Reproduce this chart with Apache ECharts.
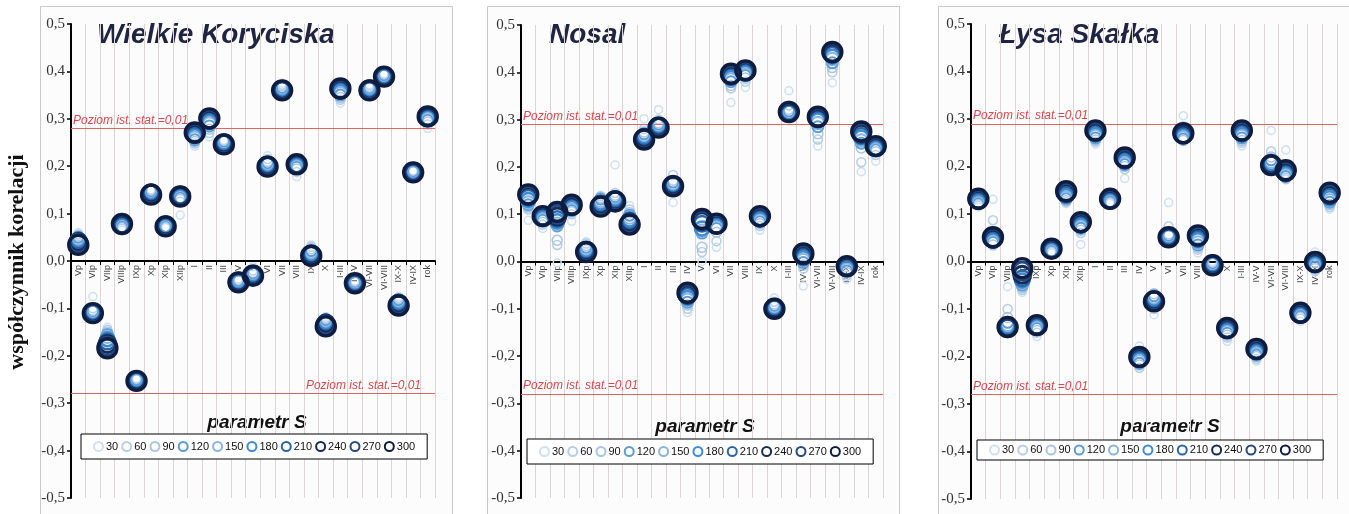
<!DOCTYPE html>
<html><head><meta charset="utf-8">
<script src="https://cdn.jsdelivr.net/npm/echarts@6/dist/echarts.min.js"></script>
<style>html,body{margin:0;padding:0;background:#fff}#c{width:1349px;height:514px}</style>
</head><body><div id="c"></div>
<script>
const categories = ['Vp','VIp','VIIp','VIIIp','IXp','Xp','XIp','XIIp','I','II','III','IV','V','VI','VII','VIII','IX','X','I-III','IV-V','VI-VII','VI-VIII','IX-X','IV-IX','rok'];
const params = ['30','60','90','120','150','180','210','240','270','300'];
const yTicks = ['-0,5','-0,4','-0,3','-0,2','-0,1','0,0','0,1','0,2','0,3','0,4','0,5'];
const titles = ['Wielkie Koryciska','Nosal','Łysa Skałka'];
const thresholds = [[0.28,-0.275],[0.29,-0.285],[0.288,-0.284]];

// Wielkie Koryciska
const wk30  = [.060,-.075,-.140,.065,-.248,.150,.070,.097,.242,.262,.255,-.038,-.012,.222,.375,.178,.034,-.117,.333,-.042,.372,.395,-.075,.190,.280];
const wk60  = [.056,-.100,-.145,.068,-.249,.150,.071,.125,.248,.270,.254,-.040,-.020,.215,.372,.188,.030,-.120,.340,-.043,.370,.394,-.078,.190,.288];
const wk90  = [.053,-.104,-.150,.070,-.250,.148,.072,.130,.252,.278,.253,-.041,-.024,.210,.369,.194,.026,-.122,.345,-.044,.367,.393,-.080,.189,.293];
const wk120 = [.050,-.106,-.155,.072,-.250,.147,.073,.133,.256,.285,.252,-.042,-.026,.207,.366,.198,.022,-.124,.350,-.045,.365,.392,-.082,.189,.297];
const wk150 = [.047,-.107,-.160,.074,-.251,.146,.073,.135,.260,.290,.251,-.043,-.027,.205,.364,.200,.019,-.126,.354,-.045,.364,.391,-.084,.188,.300];
const wk180 = [.045,-.108,-.165,.075,-.251,.145,.074,.136,.263,.293,.250,-.043,-.028,.203,.363,.202,.016,-.128,.357,-.046,.363,.390,-.086,.188,.302];
const wk210 = [.043,-.108,-.170,.076,-.252,.144,.074,.137,.266,.296,.249,-.044,-.029,.202,.362,.203,.014,-.130,.360,-.046,.362,.390,-.088,.188,.303];
const wk240 = [.040,-.109,-.175,.077,-.252,.143,.075,.137,.268,.298,.248,-.044,-.030,.201,.361,.204,.013,-.132,.362,-.047,.361,.389,-.090,.187,.304];
const wk270 = [.037,-.110,-.180,.078,-.253,.141,.074,.137,.270,.300,.247,-.045,-.030,.200,.360,.204,.012,-.135,.363,-.047,.361,.389,-.092,.187,.305];
const wk300 = [.034,-.110,-.184,.078,-.253,.140,.073,.136,.271,.301,.246,-.045,-.031,.199,.360,.204,.011,-.138,.364,-.047,.360,.389,-.094,.187,.305];

// Nosal
const no30  = [.087,.070,-.003,.085,.042,.140,.204,.118,.302,.321,.125,-.108,.000,.030,.336,.368,.066,-.077,.361,-.052,.244,.378,-.038,.190,.212];
const no60  = [.110,.078,.035,.100,.038,.138,.145,.110,.280,.300,.183,-.100,.020,.043,.366,.380,.075,-.085,.330,-.015,.258,.400,-.030,.210,.225];
const no90  = [.115,.083,.045,.105,.034,.135,.140,.103,.274,.293,.172,-.092,.030,.062,.372,.388,.080,-.090,.322,-.008,.270,.410,-.024,.240,.232];
const no120 = [.120,.087,.075,.108,.030,.132,.137,.098,.270,.290,.168,-.086,.060,.070,.380,.393,.084,-.093,.318,-.002,.285,.420,-.020,.250,.236];
const no150 = [.125,.090,.080,.110,.027,.128,.135,.093,.267,.288,.165,-.081,.065,.073,.385,.396,.087,-.095,.316,.003,.293,.428,-.017,.256,.238];
const no180 = [.130,.092,.085,.113,.025,.125,.133,.089,.265,.287,.163,-.077,.070,.075,.388,.399,.089,-.097,.315,.007,.298,.433,-.014,.262,.240];
const no210 = [.135,.094,.090,.115,.023,.122,.131,.086,.263,.286,.162,-.073,.080,.077,.391,.401,.091,-.098,.315,.010,.301,.437,-.012,.266,.241];
const no240 = [.138,.095,.095,.117,.022,.120,.129,.083,.261,.285,.161,-.070,.085,.078,.393,.402,.093,-.099,.315,.013,.303,.440,-.011,.270,.242];
const no270 = [.140,.096,.100,.119,.021,.118,.128,.080,.259,.284,.160,-.068,.088,.079,.395,.403,.095,-.100,.316,.015,.305,.442,-.010,.273,.243];
const no300 = [.142,.096,.105,.120,.020,.116,.127,.078,.258,.283,.159,-.066,.090,.080,.397,.404,.096,-.100,.316,.017,.306,.443,-.010,.275,.244];

// Łysa Skałka
const ls30  = [.115,.131,-.053,-.065,-.158,.018,.122,.036,.247,.122,.175,-.178,-.112,.124,.307,.018,.000,-.168,.243,-.210,.276,.235,-.126,.020,.110];
const ls60  = [.118,.087,-.100,-.060,-.150,.020,.125,.060,.252,.124,.194,-.224,-.100,.074,.285,.025,-.002,-.160,.250,-.205,.232,.173,-.120,-.020,.115];
const ls90  = [.120,.035,-.118,-.055,-.145,.021,.128,.066,.256,.125,.200,-.218,-.068,.058,.255,.030,-.003,-.155,.255,-.200,.220,.176,-.117,-.015,.120];
const ls120 = [.122,.040,-.128,-.050,-.141,.022,.132,.070,.260,.126,.204,-.214,-.072,.055,.258,.035,-.004,-.151,.260,-.197,.214,.179,-.115,-.012,.125];
const ls150 = [.124,.042,-.133,-.045,-.139,.023,.135,.073,.264,.127,.207,-.210,-.075,.053,.261,.040,-.005,-.148,.264,-.194,.210,.182,-.113,-.009,.129];
const ls180 = [.126,.044,-.136,-.040,-.137,.024,.138,.076,.267,.128,.210,-.207,-.078,.052,.264,.045,-.006,-.146,.267,-.191,.207,.184,-.112,-.006,.133];
const ls210 = [.128,.046,-.138,-.035,-.136,.025,.141,.078,.270,.129,.213,-.205,-.080,.052,.266,.048,-.006,-.144,.270,-.189,.205,.186,-.111,-.004,.137];
const ls240 = [.130,.048,-.139,-.028,-.135,.026,.144,.080,.272,.130,.215,-.203,-.082,.051,.268,.051,-.007,-.142,.272,-.187,.204,.188,-.110,-.003,.140];
const ls270 = [.131,.050,-.139,-.020,-.135,.027,.146,.082,.274,.131,.217,-.202,-.083,.051,.269,.053,-.007,-.141,.274,-.185,.203,.190,-.109,-.002,.143];
const ls300 = [.132,.051,-.138,-.014,-.134,.027,.148,.083,.276,.132,.219,-.201,-.084,.051,.270,.055,-.008,-.140,.276,-.184,.203,.192,-.108,-.001,.145];

const panelData = [
  [wk30,wk60,wk90,wk120,wk150,wk180,wk210,wk240,wk270,wk300],
  [no30,no60,no90,no120,no150,no180,no210,no240,no270,no300],
  [ls30,ls60,ls90,ls120,ls150,ls180,ls210,ls240,ls270,ls300]
];

const colors = ['#cfe0f1','#b6cfe9','#a8c5e4','#5c9bd5','#8ab5de','#3c8bd4','#2a66a6','#142c5c','#25497e','#0e1c40'];
const sizes  = [8,9,10,11,12.5,14,15.5,17,18,19];
const borders= [1.5,1.5,1.5,2,2,2.5,2.5,3,3.2,3.4];

const grids = [
  {left:71, top:24, width:364, height:474, outerBoundsMode:'none', containLabel:false},
  {left:521, top:25, width:362, height:473, outerBoundsMode:'none', containLabel:false},
  {left:971, top:24, width:366, height:475, outerBoundsMode:'none', containLabel:false}
];
const legendPos = [
  {left:81, top:434, h:28},
  {left:527, top:439, h:28},
  {left:977, top:440, h:23}
];
const paramLabelPos = [[257,423],[705,427],[1170,427]];
const titlePos = [[97,35],[549,35],[999,35]];
const panelRects = [[40,6,412,520],[487,6,412,520],[938,6,420,520]];

const xAxes=[], yAxes=[], series=[], legends=[], graphics=[];
panelRects.forEach(r=>graphics.push({type:'rect',shape:{x:r[0]+0.5,y:r[1]+0.5,width:r[2],height:r[3]},style:{fill:'#fcfcfc',stroke:'#c9c9c9',lineWidth:1},z:-10}));

for(let p=0;p<3;p++){
  xAxes.push({type:'category',gridIndex:p,data:categories,boundaryGap:true,position:'bottom',
    offset:-grids[p].height/2,
    axisLine:{onZero:false,lineStyle:{color:'#000',width:2}},
    axisTick:{show:true,length:4,lineStyle:{color:'#000'}},
    axisLabel:{rotate:90,fontSize:9,color:'#444',fontFamily:'Liberation Sans',margin:4,interval:0},
    splitLine:{show:true,lineStyle:{color:'#ddd3d3',width:1}}});
  yAxes.push({type:'value',gridIndex:p,min:-0.5,max:0.5,interval:0.1,
    axisLine:{show:true,onZero:false,lineStyle:{color:'#000',width:2}},
    axisTick:{show:true,length:4,lineStyle:{color:'#000',width:1.5}},
    splitLine:{show:false},
    axisLabel:{fontFamily:'Liberation Serif',fontSize:15,color:'#333',margin:6,
      formatter:v=>yTicks[Math.round((v+0.5)*10)]}});
  const thr = thresholds[p];
  for(let s=0;s<10;s++){
    const ser={type:'scatter',name:params[s],xAxisIndex:p,yAxisIndex:p,data:panelData[p][s],
      symbol:'circle',symbolSize:sizes[s],
      itemStyle:{color:'rgba(255,255,255,0)',borderColor:colors[s],borderWidth:borders[s],opacity:1},
      emphasis:{disabled:true},z:2+s};
    if(s===0){
      ser.markLine={silent:true,symbol:['none','none'],animation:false,
        lineStyle:{color:'#e06464',width:1.2,type:'solid'},
        data:[
          {yAxis:thr[0],label:{show:true,position:'insideStartTop',formatter:'Poziom ist. stat.=0,01',color:'#d9474b',fontStyle:'italic',fontSize:12,fontFamily:'Liberation Sans',distance:[2,2]}},
          {yAxis:thr[1],label:{show:true,position:p===0?'insideEndTop':'insideStartTop',formatter:'Poziom ist. stat.=0,01',color:'#d9474b',fontStyle:'italic',fontSize:12,fontFamily:'Liberation Sans',distance:p===0?[14,2]:[2,2]}}
        ]};
    }
    series.push(ser);
  }
  legends.push({left:legendPos[p].left,top:legendPos[p].top,orient:'horizontal',
    data:params,itemWidth:9,itemHeight:9,itemGap:3,
    padding:[(legendPos[p].h-14)/2,12,(legendPos[p].h-14)/2,12],
    borderColor:'#000',borderWidth:1,backgroundColor:'#fff',
    textStyle:{fontSize:11,fontFamily:'Liberation Sans',color:'#111',padding:[0,0,0,-2]},
    selectedMode:false});
  graphics.push({type:'text',x:titlePos[p][0],y:titlePos[p][1],style:{text:titles[p],font:'italic bold 28px "Liberation Sans"',fill:'#1e2442',verticalAlign:'middle'}});
  graphics.push({type:'text',x:paramLabelPos[p][0],y:paramLabelPos[p][1],style:{text:'parametr S',font:'italic bold 19px "Liberation Sans"',fill:'#111',align:'center',verticalAlign:'middle'}});
}
graphics.push({type:'text',x:17,y:262,rotation:Math.PI/2,style:{text:'współczynnik korelacji',font:'bold 22px "Liberation Serif"',fill:'#111',align:'center',verticalAlign:'middle'}});

const chart = echarts.init(document.getElementById('c'),null,{renderer:'canvas'});
chart.setOption({animation:false,backgroundColor:'#fff',grid:grids,xAxis:xAxes,yAxis:yAxes,series,legend:legends,graphic:graphics,tooltip:{show:false}});
</script></body></html>
